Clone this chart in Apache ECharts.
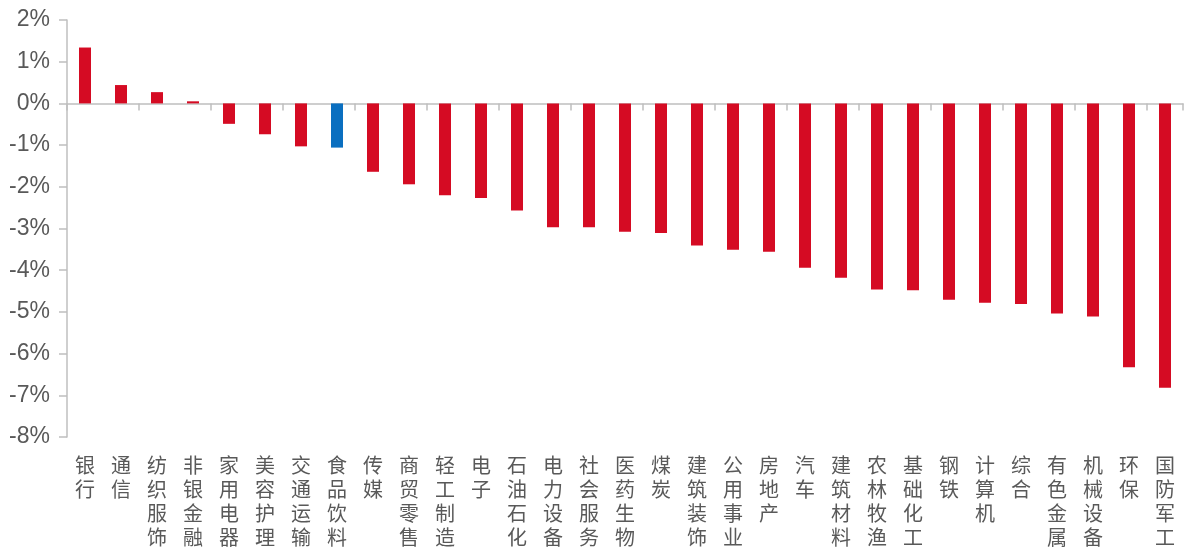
<!DOCTYPE html>
<html>
<head>
<meta charset="utf-8">
<script src="https://cdn.jsdelivr.net/npm/echarts@6/dist/echarts.min.js"></script>
<style>html,body{margin:0;padding:0;background:#fff;}#c{width:1184px;height:549px;}</style>
</head>
<body>
<div id="c"></div>
<script>
const categories = ['银行','通信','纺织服饰','非银金融','家用电器','美容护理','交通运输','食品饮料','传媒','商贸零售','轻工制造','电子','石油石化','电力设备','社会服务','医药生物','煤炭','建筑装饰','公用事业','房地产','汽车','建筑材料','农林牧渔','基础化工','钢铁','计算机','综合','有色金属','机械设备','环保','国防军工'];
const values = [1.34,0.44,0.27,0.05,-0.49,-0.74,-1.03,-1.06,-1.64,-1.94,-2.20,-2.27,-2.57,-2.97,-2.97,-3.08,-3.11,-3.41,-3.51,-3.56,-3.94,-4.18,-4.46,-4.48,-4.71,-4.78,-4.81,-5.04,-5.11,-6.33,-6.82];
const highlight = '食品饮料';
const yTicks = {min: -8, max: 2, interval: 1};
const RED = '#d50b23', BLUE = '#0a6fc0';

const chart = echarts.init(document.getElementById('c'));
chart.setOption({
  animation: false,
  grid: {left: 67, right: 1, top: 20, bottom: 112},
  xAxis: [{
    type: 'category', data: categories,
    axisLine: {onZero: true, lineStyle: {color: '#bfbfbf', width: 1.5}},
    axisTick: {show: true, length: 7, lineStyle: {color: '#bfbfbf', width: 1.5}},
    axisLabel: {show: false}
  }, {
    type: 'category', data: categories, position: 'bottom',
    axisLine: {show: false, onZero: false}, axisTick: {show: false},
    axisLabel: {
      interval: 0, margin: 16, color: '#595959',
      fontFamily: 'Noto Sans CJK SC', fontSize: 20, lineHeight: 24,
      verticalAlign: 'top',
      formatter: v => v.split('').join('\n')
    }
  }],
  yAxis: {
    type: 'value', min: yTicks.min, max: yTicks.max, interval: yTicks.interval,
    splitLine: {show: false},
    axisLine: {show: true, lineStyle: {color: '#bfbfbf', width: 1.5}},
    axisTick: {show: true, length: 8, lineStyle: {color: '#bfbfbf', width: 1.5}},
    axisLabel: {
      margin: 17, color: '#595959', fontFamily: 'Liberation Sans', fontSize: 23,
      formatter: v => v + '%'
    }
  },
  series: [{
    type: 'bar', xAxisIndex: 0, barWidth: 12,
    data: values.map((v, i) => ({value: v, itemStyle: {color: categories[i] === highlight ? BLUE : RED}}))
  }]
});
</script>
</body>
</html>
